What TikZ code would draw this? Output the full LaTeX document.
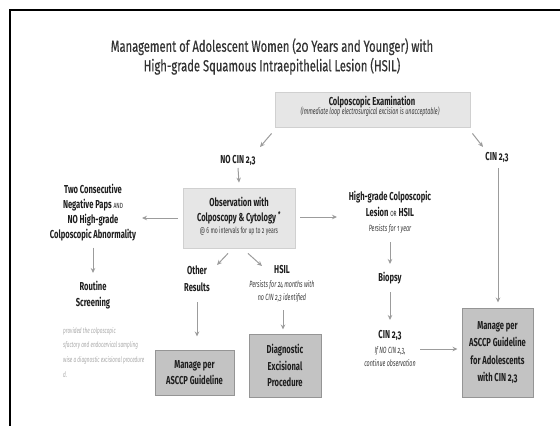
\documentclass[tikz,border=0pt]{standalone}
\usepackage{fontspec}
\setmainfont{Fira Sans}[FakeStretch=0.66,Numbers=OldStyle]
\newfontfamily\titlefont{Fira Sans}[FakeStretch=0.7,FakeBold=0.4,Numbers=OldStyle]
\newfontfamily\notefont{Fira Sans}[FakeStretch=0.6,Numbers=OldStyle]
\usetikzlibrary{arrows.meta}

\definecolor{ink}{HTML}{1E1E1E}
\definecolor{titleink}{HTML}{333333}
\definecolor{arrowgray}{HTML}{9C9C9C}
\definecolor{paleboxfill}{HTML}{E6E6E6}
\definecolor{paleboxline}{HTML}{D0D0D0}
\definecolor{darkboxfill}{HTML}{C3C3C3}
\definecolor{darkboxline}{HTML}{959595}
\definecolor{notegray}{HTML}{A8A8A8}
\definecolor{smallink}{HTML}{3A3A3A}

% small upright connective (AND / OR)
\newcommand{\conjword}[1]{{\fontsize{7.5}{8}\selectfont\mdseries #1}}

\tikzset{
  lbl/.style={align=center, text=ink, inner sep=0pt,
    font=\fontsize{11.5}{15}\selectfont\bfseries},
  smallnote/.style={align=center, text=smallink, inner sep=0pt,
    font=\notefont\fontsize{9}{13}\selectfont\itshape},
  palebox/.style={fill=paleboxfill, draw=paleboxline, line width=0.8pt, inner sep=0pt},
  darkbox/.style={lbl, fill=darkboxfill, draw=darkboxline, line width=1pt,
    font=\fontsize{11.5}{16.5}\selectfont\bfseries},
  arr/.style={draw=arrowgray, line width=1pt, -{Stealth[length=5pt,width=4.5pt]}},
}

\begin{document}
\begin{tikzpicture}[x=1pt,y=-1pt]
\useasboundingbox (0,0) rectangle (560,426);

% page frame
\draw[line width=2pt] (10,426) -- (10,10) -- (560,10);

% heading
\node[align=center, text=titleink, inner sep=0pt,
      font=\titlefont\fontsize{16}{19.5}\selectfont] (title) at (272,56.5)
  {Management of Adolescent Women (20 Years and Younger) with\\
   High-grade Squamous Intraepithelial Lesion (HSIL)};

% colposcopic examination
\node[palebox, minimum width=195, minimum height=35] (exam) at (372.5,109.5) {};
\node[lbl] (examtitle) at (372,102) {Colposcopic Examination};
\node[smallnote] (examnote) at (370,111.5) {(Immediate loop electrosurgical excision is unacceptable)};

\node[lbl] (nocin) at (238,160) {NO CIN 2,3};
\node[lbl] (cin) at (497,157) {CIN 2,3};

% observation
\node[palebox, minimum width=112, minimum height=60] (obs) at (239,218) {};
\node[lbl] (obstitle) at (239,210.5) {Observation with\\Colposcopy \& Cytology\,\textsuperscript{*}};
\node[smallnote, font=\notefont\fontsize{8.5}{10}\selectfont] (obsnote) at (239,231.5) {@ 6 mo intervals for up to 2 years};

% left branch
\node[lbl] (twoneg) at (93,212.5) {Two Consecutive\\Negative Paps \conjword{AND}\\NO High-grade\\Colposcopic Abnormality};
\node[lbl, font=\fontsize{11.5}{16}\selectfont\bfseries] (routine) at (93,295) {Routine\\Screening};
\node[align=left, anchor=north west, inner sep=0pt, text=notegray,
      font=\notefont\fontsize{7.8}{14.7}\selectfont\itshape] (footnote) at (63,327)
  {provided the colposcopic\\sfactory and endocervical sampling\\wise a diagnostic excisional procedure\\d.};

% outcomes under observation
\node[lbl, font=\fontsize{11.5}{17}\selectfont\bfseries] (other) at (197,279) {Other\\Results};
\node[lbl] (hsil) at (282,270) {HSIL};
\node[smallnote] (hsilnote) at (282,291.5) {Persists for 24 months with\\no CIN 2,3 identified};
\node[darkbox, minimum width=79, minimum height=45] (mgr) at (194.5,372.5) {Manage per\\ASCCP Guideline};
\node[darkbox, minimum width=72, minimum height=63] (diag) at (285,365.5) {Diagnostic\\Excisional\\Procedure};

% right-centre branch
\node[lbl, font=\fontsize{11.5}{16}\selectfont\bfseries] (hg) at (390,204) {High-grade Colposcopic\\Lesion \conjword{OR} HSIL};
\node[smallnote] (hgnote) at (390,229) {Persists for 1 year};
\node[lbl] (biopsy) at (390,278) {Biopsy};
\node[lbl] (cinb) at (390,335) {CIN 2,3};
\node[smallnote] (cinbnote) at (390,356.5) {If NO CIN 2,3,\\continue observation};
\node[darkbox, minimum width=71, minimum height=89, font=\fontsize{11.5}{17.3}\selectfont\bfseries] (adol) at (497.5,352.5)
  {Manage per\\ASCCP Guideline\\for Adolescents\\with CIN 2,3};

% connectors
\draw[arr] ([shift={(-3,6)}]exam.south west) -- ([shift={(22,-13)}]nocin.center);
\draw[arr] ([shift={(2,6)}]exam.south east) -- ([shift={(-14,-10)}]cin.center);
\draw[arr] ([shift={(0,8)}]nocin.center) -- ([shift={(0,-5)}]obs.north);
\draw[arr] ([shift={(-5,0)}]obs.west) -- ([shift={(49,5.5)}]twoneg.center);
\draw[arr] ([shift={(5,-1)}]obs.east) -- ([shift={(-53,13)}]hg.center);
\draw[arr] ([shift={(0,35)}]twoneg.center) -- ([shift={(0,-22)}]routine.center);
\draw[arr] ([shift={(-11,5)}]obs.south) -- ([shift={(20,-14)}]other.center);
\draw[arr] ([shift={(9,5)}]obs.south) -- ([shift={(-20,-4)}]hsil.center);
\draw[arr] ([shift={(0,23)}]other.center) -- ([shift={(2.5,-13)}]mgr.north);
\draw[arr] ([shift={(1,40)}]hsil.center) -- ([shift={(-2,-4)}]diag.north);
\draw[arr] ([shift={(0,38)}]hg.center) -- ([shift={(0,-14)}]biopsy.center);
\draw[arr] ([shift={(0,14)}]biopsy.center) -- ([shift={(0,-15)}]cinb.center);
\draw[arr] ([shift={(30,14)}]cinb.center) -- ([shift={(-4,-3.5)}]adol.west);
\draw[arr] ([shift={(1,11)}]cin.center) -- ([shift={(0.5,-5)}]adol.north);

\end{tikzpicture}
\end{document}
